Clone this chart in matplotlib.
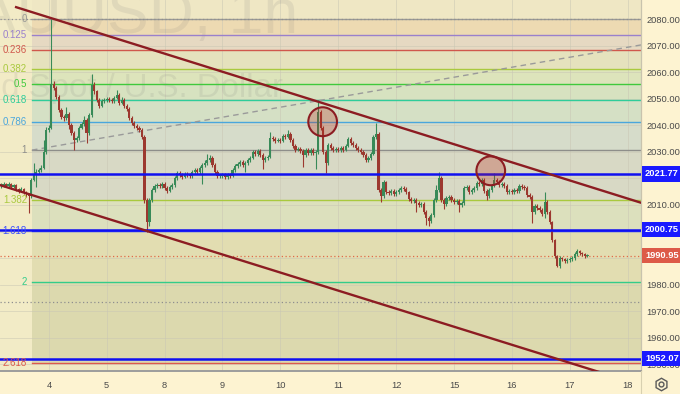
import matplotlib
matplotlib.use("Agg")
import matplotlib.pyplot as plt
from matplotlib.patches import Ellipse
from matplotlib.lines import Line2D

# hourly candles, XAUUSD (open = previous close)
closes = [
    2017.5, 2017.9, 2017.2, 2017.9, 2016.8, 2017.5, 2016.0, 2015.3, 2016.0, 2014.9,
    2014.1, 2013.4, 2019.4, 2021.7, 2022.5, 2023.2, 2024.0, 2030.0, 2038.4, 2039.1,
    2055.8, 2054.3, 2050.9, 2045.9, 2043.3, 2042.9, 2044.4, 2040.3, 2037.2, 2034.6,
    2035.3, 2039.1, 2040.6, 2042.1, 2037.2, 2044.0, 2055.4, 2052.8, 2049.7, 2047.5,
    2049.3, 2049.7, 2050.1, 2049.7, 2049.3, 2050.5, 2051.6, 2048.6, 2049.7, 2047.5,
    2046.3, 2042.9, 2041.0, 2039.9, 2039.1, 2038.4, 2035.7, 2011.9, 2003.5, 2011.9,
    2015.7, 2017.2, 2017.5, 2017.2, 2017.9, 2016.4, 2015.3, 2016.8, 2017.5, 2020.2,
    2022.1, 2021.3, 2020.6, 2021.7, 2021.3, 2021.0, 2022.5, 2023.2, 2022.5, 2024.0,
    2025.1, 2025.9, 2027.0, 2027.8, 2025.1, 2022.5, 2021.0, 2021.0, 2021.3, 2020.6,
    2021.3, 2021.0, 2023.2, 2024.7, 2025.5, 2026.3, 2025.1, 2025.9, 2027.0, 2027.8,
    2030.0, 2029.3, 2030.4, 2028.9, 2027.0, 2027.8, 2028.1, 2035.3, 2035.0, 2034.2,
    2034.6, 2034.2, 2036.1, 2035.7, 2036.8, 2034.6, 2032.3, 2030.8, 2031.2, 2030.4,
    2028.9, 2030.8, 2029.7, 2030.8, 2029.7, 2030.0, 2045.2, 2039.1, 2030.0, 2025.9,
    2032.7, 2031.6, 2030.8, 2031.2, 2030.8, 2031.6, 2030.8, 2032.3, 2035.0, 2033.4,
    2032.7, 2031.6, 2030.8, 2030.0, 2028.9, 2027.0, 2027.8, 2029.3, 2035.7, 2036.8,
    2015.7, 2013.4, 2018.7, 2014.9, 2014.5, 2015.3, 2014.1, 2014.9, 2015.7, 2016.4,
    2016.0, 2014.9, 2012.2, 2011.5, 2011.9, 2010.7, 2010.0, 2010.4, 2007.3, 2005.1,
    2003.9, 2006.2, 2011.9, 2015.7, 2020.2, 2011.9, 2010.4, 2012.6, 2013.0, 2011.9,
    2011.1, 2011.5, 2010.0, 2010.7, 2016.4, 2016.8, 2014.9, 2015.7, 2016.4, 2018.3,
    2017.9, 2019.4, 2015.3, 2013.4, 2015.7, 2017.2, 2019.4, 2018.7, 2017.5, 2017.9,
    2017.2, 2014.9, 2015.3, 2014.9, 2015.7, 2015.3, 2017.2, 2016.8, 2016.4, 2013.8,
    2013.0, 2007.3, 2009.6, 2008.8, 2008.1, 2006.6, 2011.1, 2007.3, 2003.5, 1996.7,
    1990.7, 1986.9, 1989.9, 1989.5, 1988.8, 1989.2, 1989.5, 1989.9, 1991.4, 1992.6,
    1991.8, 1991.4, 1990.7, 1990.95,
]
highs = [
    2018.3, 2018.6, 2018.4, 2018.5, 2018.2, 2018.0, 2017.8, 2016.5, 2016.6, 2016.3,
    2015.4, 2014.6, 2020.0, 2025.8, 2023.4, 2024.0, 2025.0, 2034.6, 2039.5, 2040.0,
    2080.0, 2056.8, 2055.0, 2051.5, 2046.5, 2044.0, 2046.9, 2045.0, 2041.0, 2037.8,
    2036.2, 2039.8, 2041.4, 2043.5, 2042.8, 2044.8, 2059.5, 2056.2, 2053.4, 2050.4,
    2050.0, 2050.5, 2050.8, 2050.9, 2050.4, 2051.2, 2053.5, 2052.2, 2050.6, 2050.3,
    2048.2, 2047.0, 2043.6, 2041.8, 2040.7, 2039.8, 2039.0, 2036.3, 2012.5, 2012.6,
    2016.5, 2018.1, 2018.4, 2018.2, 2018.8, 2018.5, 2017.0, 2017.5, 2018.3, 2021.0,
    2023.0, 2022.8, 2022.0, 2022.5, 2022.4, 2022.1, 2023.3, 2024.0, 2024.0, 2024.8,
    2025.9, 2026.8, 2029.3, 2028.9, 2028.4, 2025.7, 2023.1, 2021.8, 2022.0, 2022.0,
    2022.0, 2022.0, 2024.0, 2025.5, 2026.3, 2027.1, 2026.9, 2026.6, 2027.8, 2028.6,
    2030.8, 2030.7, 2031.2, 2031.0, 2029.5, 2028.6, 2028.9, 2037.6, 2036.0, 2035.7,
    2035.4, 2035.3, 2036.9, 2036.8, 2038.2, 2037.4, 2035.2, 2033.0, 2032.0, 2031.9,
    2031.0, 2031.6, 2031.4, 2031.6, 2031.4, 2030.8, 2049.7, 2046.0, 2039.7, 2030.6,
    2033.5, 2033.4, 2032.3, 2032.0, 2031.9, 2032.4, 2032.3, 2033.0, 2035.8, 2035.6,
    2034.2, 2033.3, 2032.2, 2031.5, 2030.7, 2029.5, 2028.6, 2030.0, 2036.5, 2041.0,
    2037.5, 2016.4, 2019.5, 2019.2, 2015.6, 2016.0, 2015.9, 2015.6, 2016.4, 2017.2,
    2017.3, 2016.6, 2015.4, 2012.9, 2012.7, 2012.5, 2011.4, 2011.2, 2011.0, 2008.0,
    2005.8, 2007.0, 2012.6, 2017.5, 2022.5, 2020.8, 2012.6, 2013.4, 2013.8, 2013.6,
    2012.6, 2012.3, 2012.1, 2011.5, 2017.2, 2017.6, 2017.4, 2016.5, 2017.1, 2019.0,
    2019.0, 2020.2, 2020.0, 2016.0, 2016.4, 2018.0, 2022.1, 2020.1, 2019.3, 2018.6,
    2018.6, 2017.8, 2016.0, 2016.0, 2016.4, 2016.3, 2018.0, 2017.9, 2017.5, 2017.0,
    2014.5, 2013.6, 2010.3, 2010.3, 2009.5, 2008.8, 2014.9, 2011.8, 2008.0, 2004.1,
    1997.3, 1991.3, 1990.6, 1990.5, 1990.1, 1989.9, 1990.2, 1990.6, 1992.1, 1993.4,
    1993.2, 1992.4, 1991.9, 1991.5,
]
lows = [
    2016.5, 2016.9, 2016.6, 2016.8, 2016.2, 2016.3, 2015.3, 2014.6, 2014.9, 2014.2,
    2013.2, 2007.0, 2012.8, 2018.9, 2016.8, 2021.6, 2022.4, 2023.5, 2029.2, 2037.6,
    2038.6, 2053.4, 2050.0, 2045.0, 2042.4, 2041.8, 2042.0, 2038.6, 2036.3, 2030.8,
    2033.8, 2034.6, 2038.5, 2039.8, 2033.4, 2036.5, 2043.3, 2052.0, 2048.8, 2046.6,
    2046.8, 2048.6, 2049.0, 2048.9, 2048.5, 2048.6, 2049.8, 2047.8, 2047.9, 2046.7,
    2045.5, 2042.0, 2040.2, 2039.0, 2038.2, 2037.4, 2034.9, 2010.8, 1999.8, 2002.2,
    2011.0, 2014.9, 2016.4, 2016.3, 2016.5, 2015.7, 2014.5, 2014.8, 2016.0, 2016.9,
    2019.6, 2020.6, 2019.8, 2020.0, 2020.5, 2020.2, 2020.3, 2021.8, 2021.7, 2021.8,
    2017.9, 2024.4, 2025.2, 2026.3, 2024.4, 2021.8, 2020.3, 2020.2, 2020.3, 2019.9,
    2019.9, 2020.2, 2020.4, 2022.6, 2024.0, 2024.8, 2024.4, 2022.5, 2025.2, 2026.3,
    2027.2, 2028.5, 2028.6, 2028.2, 2023.5, 2026.3, 2027.0, 2027.6, 2034.3, 2033.5,
    2033.6, 2033.5, 2033.6, 2035.0, 2035.1, 2033.9, 2031.5, 2030.0, 2030.2, 2029.6,
    2024.5, 2028.2, 2029.0, 2029.0, 2028.9, 2023.5, 2029.4, 2038.4, 2029.2, 2022.1,
    2025.2, 2030.8, 2030.0, 2030.1, 2030.0, 2030.1, 2030.0, 2030.2, 2031.8, 2032.6,
    2031.9, 2030.9, 2030.1, 2029.2, 2028.1, 2026.2, 2026.4, 2027.0, 2028.8, 2035.0,
    2014.9, 2011.1, 2012.8, 2014.2, 2013.8, 2013.9, 2013.4, 2013.4, 2014.2, 2015.0,
    2015.2, 2014.2, 2011.4, 2010.7, 2010.8, 2007.5, 2009.2, 2009.3, 2006.5, 2002.4,
    2002.0, 2003.2, 2005.6, 2011.2, 2015.0, 2011.0, 2008.3, 2009.7, 2011.8, 2011.1,
    2010.4, 2010.5, 2007.3, 2009.3, 2010.1, 2015.8, 2014.2, 2014.2, 2015.0, 2015.8,
    2017.1, 2017.3, 2014.6, 2011.9, 2012.7, 2015.0, 2016.6, 2018.0, 2016.8, 2016.9,
    2016.5, 2014.2, 2014.2, 2014.2, 2014.3, 2014.6, 2014.7, 2016.1, 2015.7, 2013.1,
    2012.3, 2003.1, 2006.6, 2008.1, 2007.4, 2005.9, 2005.1, 2006.6, 2002.8, 1996.0,
    1990.0, 1986.5, 1986.4, 1988.8, 1988.1, 1988.2, 1988.6, 1988.9, 1989.3, 1990.8,
    1991.1, 1990.8, 1990.1, 1990.3,
]
first_open = 2017.0

day_labels = ['4', '5', '8', '9', '10', '11', '12', '15', '16', '17', '18']
day_starts = [19, 42, 65, 88, 111, 134, 157, 180, 203, 226, 249]
price_ticks = list(range(1950, 2081, 10))

# fibonacci retracement
fib_high, fib_low = 2080.3, 2030.7
fib_x = [12.3, 315]
fib_ratios = [0, 0.125, 0.236, 0.382, 0.5, 0.618, 0.786, 1, 1.382, 1.618, 2, 2.618]
fib_labels = ['0', '0.125', '0.236', '0.382', '0.5', '0.618', '0.786', '1',
              '1.382', '1.618', '2', '2.618']
fib_colors = ['#9a9a96', '#9a80cc', '#d0584c', '#a9c93e', '#40c93c', '#2fcc9a',
              '#4aa6dc', '#8e8e8a', '#a9c93e', '#3a4dff', '#33cc8a', '#dc5a4c']
band_colors = ['#eddab2', '#e6d9c2', '#e5e2bd', '#dde4bb', '#d7e2c0', '#d5e0c5',
               '#d6dcca', '#d8d9c5', '#dce0bd', '#e2ddb1', '#dcd9ae']

key_levels = [2021.77, 2000.75, 1952.07]
last_price = 1990.95
dotted_levels = [2080.0, 1973.6]

upper_channel = ([6.0, 254.3], [2084.6, 2010.85])
lower_channel = ([-0.4, 254.3], [2017.5, 1942.1])
circle_centers = [(127.8, 2041.4), (194.6, 2022.9)]

plt.rcParams['font.family'] = ['Liberation Sans', 'DejaVu Sans']

W, H = 680, 394
plot_w, plot_h = 641, 371
bg = '#fdf3d1'
fig = plt.figure(figsize=(W / 100, H / 100), dpi=100, facecolor=bg)
ax = fig.add_axes([0, (H - plot_h) / H, plot_w / W, plot_h / H])
ax.set_facecolor('#f2ebc6')
x0, x1 = -0.4, 254.3
y0, y1 = 1947.4, 2087.3
ax.set_xlim(x0, x1)
ax.set_ylim(y0, y1)

# fib bands and lines
levels = [fib_high - r * (fib_high - fib_low) for r in fib_ratios]
ax.fill_between(fib_x, fib_high, y1, color='#efe7c4', lw=0, zorder=0.2)
ax.fill_between(fib_x, y0, levels[-1], color='#f0e9c3', lw=0, zorder=0.2)
for k in range(len(levels) - 1):
    ax.fill_between(fib_x, levels[k + 1], levels[k], color=band_colors[k], lw=0, zorder=0.2)
for lv, lab, col in zip(levels, fib_labels, fib_colors):
    ax.plot(fib_x, [lv, lv], color=col, lw=1.0, zorder=1.2)
    ax.annotate(lab, xy=(fib_x[0], lv), xytext=(-5, 0), textcoords='offset pixels',
                ha='right', va='center', fontsize=7, color=col, zorder=6)

# grid
for p in price_ticks:
    ax.axhline(p, color='#c9c6b4', lw=0.6, alpha=0.6, zorder=0.5)
for d in day_starts:
    ax.axvline(d, color='#c9c6b4', lw=0.6, alpha=0.6, zorder=0.5)

# watermark
wm = dict(color=(0.45, 0.45, 0.45, 0.12), ha='center',
          va='baseline', transform=ax.transAxes, zorder=0.9, clip_on=True)
ax.text(116 / plot_w, (plot_h - 33) / plot_h, 'XAUUSD, 1h', fontsize=45, **wm)
ax.text(116 / plot_w, (plot_h - 97) / plot_h, 'Gold Spot / U.S. Dollar', fontsize=23.8, **wm)

ax.plot(fib_x, [fib_low, fib_high], color='#9a9a9a', lw=1.0, ls=(0, (4, 3)), zorder=1.3)
for lv in dotted_levels:
    ax.axhline(lv, color='#8f8f8f', lw=0.9, ls=(0, (1, 2)), zorder=1.3)
ax.axhline(last_price, color='#e06a4a', lw=0.9, ls=(0, (1, 2)), zorder=1.3)

# candles
opens = [first_open] + closes[:-1]
up_c, dn_c = '#388a58', '#9c382f'
for i, (o, h, l, c) in enumerate(zip(opens, highs, lows, closes)):
    col = up_c if c >= o else dn_c
    ax.vlines(i, l, h, color=col, lw=0.8, zorder=3)
    ax.bar(i, max(abs(c - o), 0.3), bottom=min(o, c), width=0.88, color=col,
           lw=0, zorder=3.1)

# key horizontal levels
for lv in key_levels:
    ax.axhline(lv, color='#1010f0', lw=1.8, zorder=4)

# channel
chan = '#8c1c22'
ax.plot(*upper_channel, color=chan, lw=1.7, zorder=4.2)
ax.plot(*lower_channel, color=chan, lw=1.7, zorder=4.2)

for cx, cy in circle_centers:
    ax.add_patch(Ellipse((cx, cy), 11.4, 10.9, fc=(0.72, 0.15, 0.11, 0.28),
                         ec=chan, lw=1.5, zorder=5))

# axes
ax.yaxis.tick_right()
ax.set_yticks(price_ticks)
ax.set_yticklabels([f'{p:.2f}' for p in price_ticks])
ax.tick_params(axis='y', length=0, pad=4, labelsize=6.7, labelcolor='#4a4a4a')
ax.set_xticks(day_starts)
ax.set_xticklabels(day_labels)
ax.tick_params(axis='x', length=0, pad=7, labelsize=6.7, labelcolor='#4a4a4a')
for s in ['top', 'left']:
    ax.spines[s].set_visible(False)
ax.spines['bottom'].set_color('#9c9c9c')
ax.spines['bottom'].set_linewidth(1.4)
ax.spines['right'].set_color('#c8c3ad')
ax.spines['right'].set_linewidth(0.9)

for lv, col in [(2021.77, '#1a1aff'), (2000.75, '#1a1aff'),
                (1990.95, '#dd5a48'), (1952.07, '#1a1aff')]:
    ax.annotate(f'{lv:.2f}', xy=(1, lv), xycoords=('axes fraction', 'data'),
                xytext=(4, 0), textcoords='offset pixels', ha='left', va='center',
                fontsize=6.7, fontweight='bold', color='white', annotation_clip=False,
                bbox=dict(boxstyle='square,pad=0.35', fc=col, ec='none'), zorder=10)

# settings icon
gx, gy = 661 / W, 1 - 384 / H
fig.add_artist(Line2D([gx], [gy], marker='h', ms=9, mfc='none', mec='#5a5a5a', mew=1.0,
                      transform=fig.transFigure))
fig.add_artist(Line2D([gx], [gy], marker='o', ms=3.5, mfc='none', mec='#5a5a5a', mew=1.0,
                      transform=fig.transFigure))
fig.add_artist(Line2D([plot_w / W, plot_w / W], [0, (H - plot_h) / H], color='#d8d0b0',
                      lw=0.8, transform=fig.transFigure))

fig.savefig('out.png', dpi=100, facecolor=bg)
